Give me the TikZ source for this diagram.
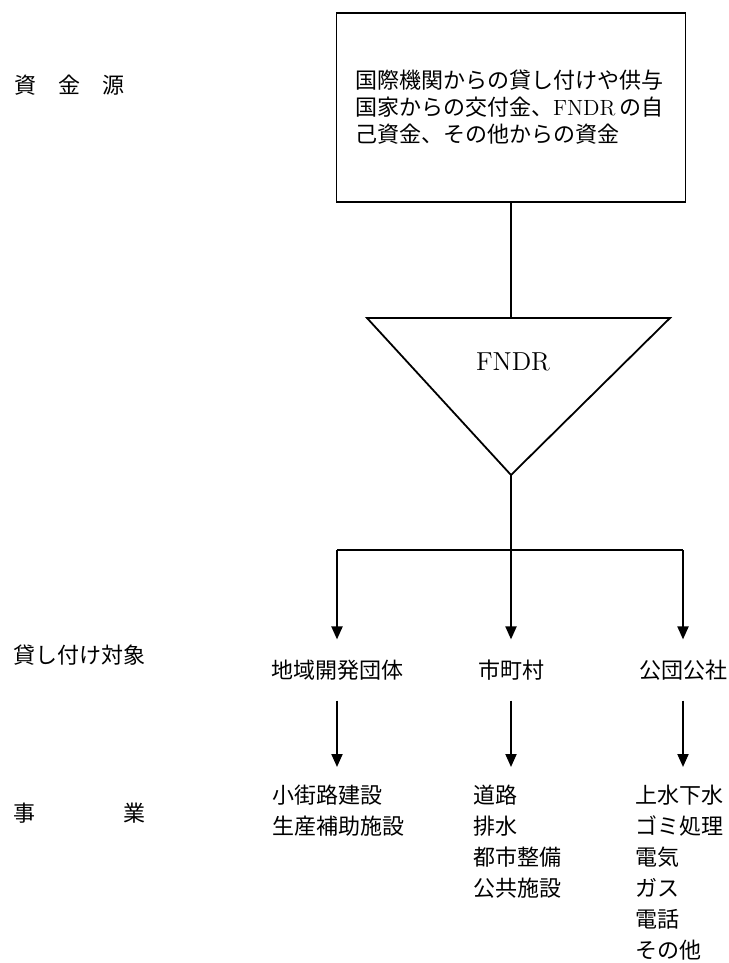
\documentclass[tikz,border=0pt]{standalone}
\usepackage{fontspec}
\newfontfamily\cjk{Noto Sans CJK JP}
\usetikzlibrary{positioning,arrows.meta}

\begin{document}
\begin{tikzpicture}[
    x=0.5pt, y=-0.5pt,
    font=\cjk\fontsize{11}{13.5}\selectfont,
    srcbox/.style={draw, line width=0.8pt, minimum width=174.5pt, minimum height=94.5pt,
                   text width=156pt, align=left, inner sep=0pt},
    tri/.style={line width=0.9pt, line join=miter},
    lbl/.style={anchor=west, inner sep=0pt},
    target/.style={inner xsep=0pt, inner ysep=10pt},
    work/.style={anchor=north west, inner xsep=0pt, inner ysep=9pt, align=left,
                 font=\cjk\fontsize{11}{15.5}\selectfont},
    arr/.style={-{Triangle[length=6.5pt,width=5.5pt]}, line width=1pt}
  ]
    \useasboundingbox (0,0) rectangle (728,963);
    % left column labels
    \node[lbl] (lsrc)  at (14,85)  {資　金　源};
    \node[lbl] (lloan) at (13,655) {貸し付け対象};
    \node[lbl] (lwork) at (13,813) {事　　　　業};
    % funding sources
    \node[srcbox] (src) at (511,107.5) {国際機関からの貸し付けや供与\\
      国家からの交付金、{\rmfamily FNDR}\,の自\\
      己資金、その他からの資金};
    % FNDR triangle
    \coordinate (tl)  at (367,318);
    \coordinate (tr)  at (670,318);
    \coordinate (tip) at (511,475);
    \coordinate (top) at (511,318);
    \draw[tri] (tl) -- (tr) -- (tip) -- cycle;
    \node[font=\rmfamily\fontsize{13}{15}\selectfont] (fndr) at (513,362) {FNDR};
    \draw[line width=0.9pt] (src.south) -- (top);
    % borrowers
    \coordinate (split) at (511,550);
    \node[target] (org)  at (337,670) {地域開発団体};
    \node[target] (muni) at (511,670) {市町村};
    \node[target] (corp) at (683,670) {公団公社};
    \draw[line width=0.9pt] (tip) -- (split);
    \draw[line width=0.9pt] (org |- split) -- (corp |- split);
    \draw[arr] (org |- split) -- (org);
    \draw[arr] (split) -- (muni);
    \draw[arr] (corp |- split) -- (corp);
    % projects
    \node[work] (work1) at (272,767) {小街路建設\\生産補助施設};
    \node[work] (work2) at (473,767) {道路\\排水\\都市整備\\公共施設};
    \node[work] (work3) at (635,767) {上水下水\\ゴミ処理\\電気\\ガス\\電話\\その他};
    \draw[arr] (org)  -- (org |- work1.north);
    \draw[arr] (muni) -- (muni |- work2.north);
    \draw[arr] (corp) -- (corp |- work3.north);
  \end{tikzpicture}
\end{document}
